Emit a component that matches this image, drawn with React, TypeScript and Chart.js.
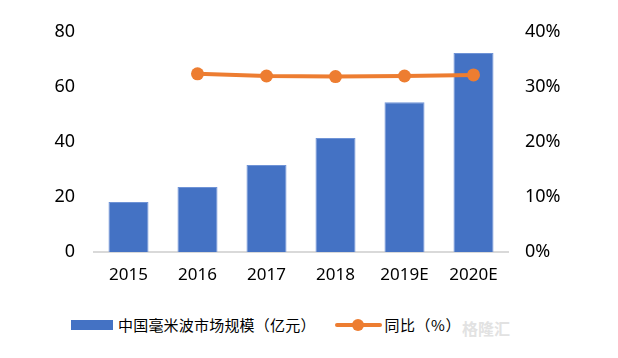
import React, { useEffect, useRef } from "react";
import { Chart, registerables } from "chart.js";

Chart.register(...registerables);

const categories = ["2015", "2016", "2017", "2018", "2019E", "2020E"];
const marketSize = [18.2, 23.6, 31.6, 41.5, 54.5, 72.4];
const yoyGrowth = [null, 0.324, 0.32, 0.319, 0.32, 0.322];
const leftTicks = [0, 20, 40, 60, 80];
const rightTicks = [0, 0.1, 0.2, 0.3, 0.4];

const barLabel = "中国毫米波市场规模（亿元）";
const lineLabel = "同比（%）";

const FONT = "'Noto Sans', 'Noto Sans CJK SC', sans-serif";
const CJK = "'Noto Sans CJK SC', 'Noto Sans', sans-serif";

export default function App() {
  const ref = useRef<HTMLCanvasElement | null>(null);

  useEffect(() => {
    document.body.style.margin = "0";
    const ctx = ref.current!;
    const chart = new Chart(ctx, {
      data: {
        labels: categories,
        datasets: [
          {
            type: "line",
            label: lineLabel,
            data: yoyGrowth as any,
            yAxisID: "y1",
            borderColor: "#ED7D31",
            backgroundColor: "#ED7D31",
            borderWidth: 4,
            pointRadius: 6.5,
            pointBackgroundColor: "#ED7D31",
            pointBorderWidth: 0,
            spanGaps: false,
            order: 0,
          },
          {
            type: "bar",
            label: barLabel,
            data: marketSize,
            yAxisID: "y",
            backgroundColor: "#4472C4",
            borderColor: "#6F93D6",
            borderWidth: 1,
            categoryPercentage: 1,
            barPercentage: 0.58,
            order: 1,
          },
        ],
      },
      options: {
        animation: false,
        responsive: false,
        maintainAspectRatio: false,
        layout: { padding: { top: 32, left: 0, right: 0, bottom: 0 } },
        plugins: { legend: { display: false }, tooltip: { enabled: false } },
        scales: {
          x: {
            grid: { display: false, drawTicks: false },
            border: { display: true, color: "#D9D9D9", width: 2 },
            ticks: { color: "#000", font: { family: FONT, size: 17 }, padding: 13 },
            afterFit: (s: any) => {
              s.height = 48;
            },
          },
          y: {
            position: "left",
            min: 0,
            max: 80,
            afterBuildTicks: (s: any) => {
              s.ticks = leftTicks.map((v) => ({ value: v }));
            },
            grid: { display: false, drawTicks: false },
            border: { display: false },
            ticks: { color: "#000", font: { family: FONT, size: 18 }, padding: 19 },
            afterFit: (s: any) => {
              s.width = 94;
            },
          },
          y1: {
            position: "right",
            min: 0,
            max: 0.4,
            afterBuildTicks: (s: any) => {
              s.ticks = rightTicks.map((v) => ({ value: v }));
            },
            grid: { display: false, drawTicks: false },
            border: { display: false },
            ticks: {
              color: "#000",
              font: { family: FONT, size: 18 },
              padding: 17,
              callback: (v: any) => Math.round(Number(v) * 100) + "%",
            },
            afterFit: (s: any) => {
              s.width = 110;
            },
          },
        },
      },
    });
    return () => chart.destroy();
  }, []);

  return (
    <div style={{ position: "relative", width: 618, height: 358, background: "#fff", fontFamily: FONT }}>
      <canvas ref={ref} width={618} height={300} style={{ display: "block", width: 618, height: 300 }} />
      <div style={{ position: "absolute", left: 71, top: 314, display: "flex", alignItems: "center", fontSize: 15, fontFamily: CJK, color: "#000", whiteSpace: "nowrap" }}>
        <span style={{ display: "inline-block", width: 42, height: 10, background: "#4472C4", marginRight: 5 }} />
        <span style={{ letterSpacing: 0.2 }}>{barLabel}</span>
        <span style={{ display: "inline-block", position: "relative", width: 47, height: 14, marginLeft: 19, marginRight: 3 }}>
          <span style={{ position: "absolute", left: 0, right: 0, top: 5, height: 4, background: "#ED7D31", borderRadius: 2 }} />
          <span style={{ position: "absolute", left: 17, top: 1, width: 12, height: 12, borderRadius: 6, background: "#ED7D31" }} />
        </span>
        <span style={{ letterSpacing: 0.5 }}>{lineLabel}</span>
      </div>
      <div style={{ position: "absolute", left: 462, top: 316, fontSize: 16, fontFamily: CJK, color: "#e2e2e2", fontWeight: "bold" }}>格隆汇</div>
    </div>
  );
}
